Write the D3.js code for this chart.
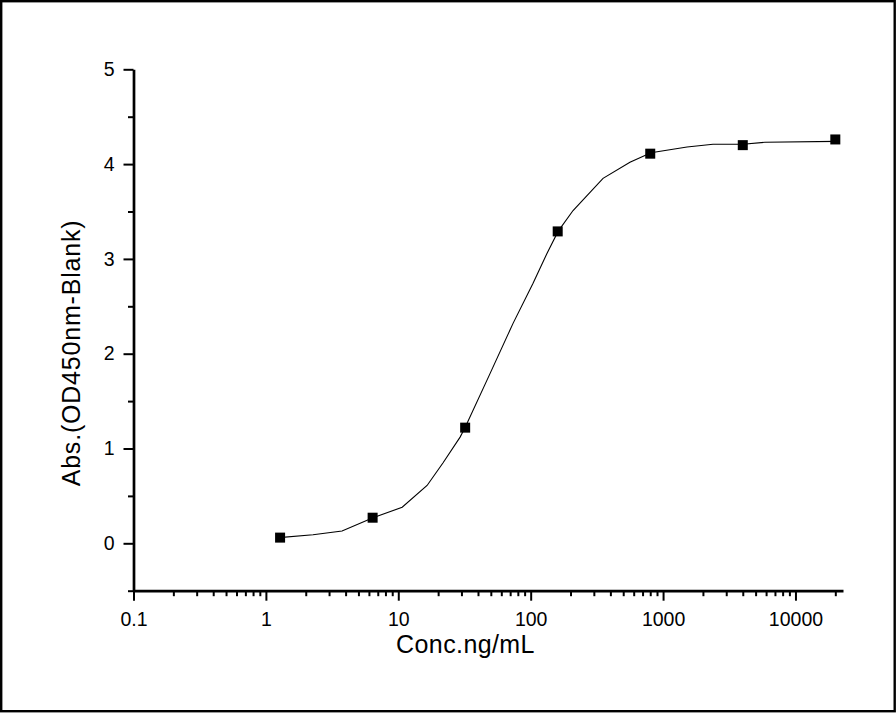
<!DOCTYPE html>
<html>
<head>
<meta charset="utf-8">
<script src="https://cdn.jsdelivr.net/npm/d3@7"></script>
<style>
  body { margin: 0; background: #fff; }
  svg { display: block; font-family: Arial, "Liberation Sans", sans-serif; }
</style>
</head>
<body>
<svg id="chart" width="896" height="713"></svg>
<script>
// measured standards (ng/mL, OD450 - blank)
const conc = [1.28, 6.4, 32, 160, 800, 4000, 20000];
const absorbance = [0.06, 0.27, 1.22, 3.29, 4.11, 4.20, 4.26];

// fitted curve
const curveConc = [1.26, 2.27, 3.76, 6.44, 10.7, 16.5, 21.8, 29.3, 31.9, 49.3, 73.6, 104, 133, 161, 209, 352, 562, 810, 1517, 2383, 4010, 5875, 20200];
const curveAbs = [0.06, 0.09, 0.13, 0.27, 0.38, 0.61, 0.85, 1.12, 1.22, 1.79, 2.32, 2.74, 3.06, 3.29, 3.51, 3.85, 4.02, 4.12, 4.18, 4.21, 4.21, 4.23, 4.24];

const xMajor = [0.1, 1, 10, 100, 1000, 10000];
const yMajor = [0, 1, 2, 3, 4, 5];
const yMinor = [-0.5, 0.5, 1.5, 2.5, 3.5, 4.5];

const svg = d3.select("#chart");

svg.append("rect")
    .attr("x", 1.2).attr("y", 1.2)
    .attr("width", 893.5).attr("height", 710)
    .attr("fill", "none")
    .attr("stroke", "#000")
    .attr("stroke-width", 2.4);

const x = d3.scaleLog().domain([0.1, 22860]).range([133.5, 843]);
const y = d3.scaleLinear().domain([-0.5, 5]).range([590.7, 69.3]);

// minor ticks 2..9 per decade
let xMinor = [];
xMajor.forEach(d => {
    for (let k = 2; k <= 9; k++) {
        const v = d * k;
        if (v <= x.domain()[1]) xMinor.push(v);
    }
});

const gx = svg.append("g").attr("transform", `translate(0,${y(-0.5)})`);
gx.append("g")
    .call(d3.axisBottom(x).tickValues(xMinor).tickFormat("").tickSize(5.5))
    .call(g => g.select(".domain").remove());
gx.append("g")
    .call(d3.axisBottom(x).tickValues(xMajor).tickFormat(d3.format("~g")).tickSize(10).tickSizeOuter(0).tickPadding(11));

const gy = svg.append("g").attr("transform", `translate(${x(0.1)},0)`);
gy.append("g")
    .call(d3.axisLeft(y).tickValues(yMinor).tickFormat("").tickSize(5.5))
    .call(g => g.select(".domain").remove());
gy.append("g")
    .call(d3.axisLeft(y).tickValues(yMajor).tickFormat(d3.format("d")).tickSize(10).tickSizeOuter(0).tickPadding(9));

svg.selectAll(".domain").attr("stroke-width", 2.7).attr("stroke", "#000");
svg.selectAll(".tick line").attr("stroke-width", 2).attr("stroke", "#000");
svg.selectAll(".tick text").attr("font-size", 19.5).attr("fill", "#000")
    .attr("font-family", "Arial, 'Liberation Sans', sans-serif");

// fitted curve
const line = d3.line()
    .x((d, i) => x(curveConc[i]))
    .y(d => y(d));

svg.append("path")
    .datum(curveAbs)
    .attr("fill", "none")
    .attr("stroke", "#000")
    .attr("stroke-width", 1.1)
    .attr("d", line);

// points
const size = 10;
svg.append("g")
    .selectAll("rect")
    .data(absorbance)
    .join("rect")
    .attr("x", (d, i) => x(conc[i]) - size / 2)
    .attr("y", d => y(d) - size / 2)
    .attr("width", size)
    .attr("height", size)
    .attr("fill", "#000");

// axis titles
svg.append("text")
    .attr("x", 465.5).attr("y", 653)
    .attr("text-anchor", "middle")
    .attr("font-size", 25)
    .attr("letter-spacing", 0.4)
    .text("Conc.ng/mL");

svg.append("text")
    .attr("transform", "translate(80,353) rotate(-90)")
    .attr("text-anchor", "middle")
    .attr("font-size", 25)
    .attr("letter-spacing", 0.8)
    .text("Abs.(OD450nm-Blank)");
</script>
</body>
</html>
